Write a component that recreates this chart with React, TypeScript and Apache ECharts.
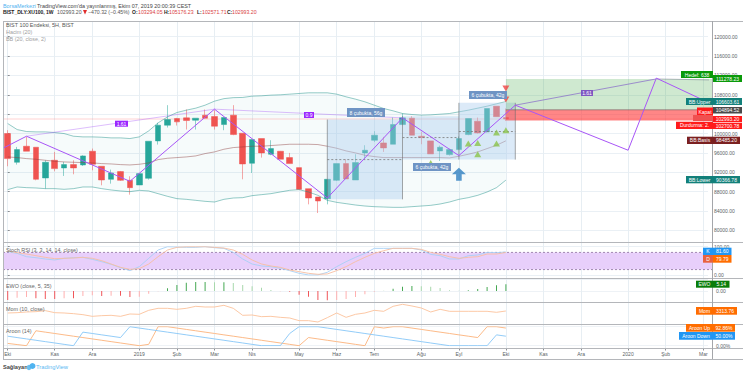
import React, { useEffect, useRef } from "react";
import * as echarts from "echarts";

const FONT = '"Liberation Sans", Arial, sans-serif';
const SLOTS = 75;
const monthLabels: [number, string][] = [[0,"Eki"],[5,"Kas"],[9,"Ara"],[14,"2019"],[18,"Şub"],[22,"Mar"],[26,"Nis"],[31,"May"],[35,"Haz"],[39,"Tem"],[44,"Ağu"],[48,"Eyl"],[53,"Eki"],[57,"Kas"],[61,"Ara"],[66,"2020"],[70,"Şub"],[74,"Mar"]];
const categories: string[] = Array.from({ length: SLOTS }, () => "");
monthLabels.forEach(([i, t]) => { categories[i] = t; });
const hiddenPriceTicks = [104000];

// open, close, low, high
const candles = [
[99990,94815,93230,100680],[94056,96678,93573,97230],[97368,96333,96333,99300],[97161,90537,90330,97161],
[90813,94056,88605,94470],[94470,92745,92193,96195],[92883,93573,91227,94125],[93573,92883,91572,94470],
[93504,95367,93297,95505],[96333,93642,92400,96885],[93228,90399,89295,93228],[90537,91848,89640,92538],
[92124,90330,90192,92262],[90330,88812,87363,91158],[89364,91710,89364,91710],[90744,98403,90468,98403],
[98472,101715,97713,102198],[101715,102888,101232,105855],[103095,102405,101646,103233],[103233,102681,100818,104958],
[102750,103164,100818,103164],[103785,103164,103164,104958],[103509,101508,100818,104820],[101853,103302,100680,103302],
[103785,99783,99645,105855],[100059,93711,90537,100059],[93849,98748,91848,98748],[98955,95988,95022,98955],
[95712,96885,95505,98610],[96333,94677,94677,96400],[95022,93780,93780,95988],[92952,88467,88467,92952],
[88605,86673,85362,88605],[86880,86052,83568,86880],[86535,90537,85362,90537],[90330,93780,90192,93780],
[93780,90606,90606,94677],[90399,93987,90399,95712],[95988,96540,94815,97575],[98610,99645,98265,100473],
[98058,97023,96195,99300],[97782,101853,97782,103302],[101853,103233,101715,104130],[103164,99645,99645,103578],
[99438,99162,97782,100335],[98472,95781,95781,98472],[96402,97161,94332,97506],[95643,96678,95436,96885],
[96678,98955,96678,99438],[99783,103095,99645,103095],[102543,100128,99990,103302],[100335,105165,100197,105165],
[105648,103464,103464,105648],[103294.05,102993.2,102571.71,105176.23],
];
const bbUpper = [102060,100818,100404,100335,100335,100197,99990,99438,99300,99300,99231,99093,99093,98955,99300,100542,102198,103440,104337,104820,105234,105855,106683,107200,107407,107448,107718,107787,107925,107994,108132,108270,108408,108408,108408,108132,107580,107097,106545,105855,105165,104682,104130,103923,103785,103854,103992,104130,104475,104820,105234,105648,106131,106603.61];
const bbBasis = [95160,95022,94815,94677,94470,94263,94125,94056,93987,93918,93780,93711,93573,93504,93642,93918,94608,94884,95022,95160,95367,95850,96195,96747,97092,97230,97368,97368,97506,97644,97782,97782,97782,97713,97368,96954,96402,95988,95505,95229,95022,95022,95022,95022,95022,95022,95022,94953,95298,95712,96195,96885,97575,98485.2];
const bbLower = [88398,88950,88812,88743,88605,88605,88467,88605,88950,88950,88605,88329,88122,87984,88260,88122,87570,87018,86535,86397,86190,85983,85845,86397,86673,86742,87156,87363,87570,87915,88260,88398,87915,87225,86190,85776,85500,85224,85017,84879,84810,84741,84741,84879,85017,85155,85431,85845,86397,86742,87225,87915,88812,90366.78];
const stochK = [82.6,76.7,65.1,61.6,57,53.5,59.3,61.6,62.8,55.8,47.7,38.4,26.7,16.3,30.2,59.3,88.4,100,98.8,97.7,97.7,100,96.5,94.2,80.2,57,39.5,32.6,30.2,24.4,16.3,7,1.2,1.2,10.5,30.2,47.7,62.8,76.7,94.2,94.2,94.2,94.2,94.2,88.4,73.3,68.6,57,57,68.6,70.9,80.2,79.1,81.6];
const stochD = [84.9,79.1,74.4,68.6,62.8,58.1,59.3,60.5,62.8,59.3,51.2,39.5,27.9,20.9,23.3,39.5,65.1,88.4,97.7,100,100,100,97.7,95.3,88.4,73.3,53.5,39.5,32.6,27.9,18.6,12.8,7,3.5,4.7,16.3,30.2,47.7,62.8,76.7,86,94.2,94.2,94.2,90.7,80.2,73.3,65.1,59.3,62.8,65.1,74.4,74.4,79.79];
const ewo = [-6.94,-5.14,-4.63,-5.66,-6.17,-6.17,-5.66,-5.66,-3.86,-3.34,-3.86,-3.6,-3.6,-4.63,-4.37,-2.06,-0.26,2.06,4.63,6.43,6.94,6.94,6.68,6.68,6.17,4.63,3.6,2.57,0.77,-0.26,-0.51,-2.83,-4.37,-6.94,-7.2,-6.94,-6.17,-4.63,-2.57,-0.51,0.1,1.8,3.34,3.86,3.6,3.34,2.31,0.51,0.26,0.51,1.54,3.08,4.37,5.14];
const mom = [-453,173,1427,2054,3934,173,-453,-1707,-3587,-6720,-5467,-4840,-6720,-2333,-2960,4560,8320,8320,6440,8320,12080,10827,10827,13960,8320,-4840,-4213,-7347,-6720,-8600,-9854,-14867,-14867,-17374,-9227,-453,-8600,-2960,-453,4560,2680,12080,15840,12707,8947,1427,6440,2680,2680,2680,2680,2680,800,3313.76];
const aroonUp = [12,6,0,78.6,71.4,64.3,57.1,50,42.9,35.7,28.6,21.4,14.3,7.1,0,7.1,100,100,92.9,85.7,78.6,71.4,64.3,57.1,50,42.9,35.7,28.6,21.4,14.3,7.1,0,42.9,35.7,28.6,21.4,14.3,7.1,0,100,92.9,100,100,92.9,85.7,78.6,71.4,64.3,57.1,50,42.9,100,100,92.86];
const aroonDown = [50,42.9,35.7,28.6,21.4,14.3,7.1,0,71.4,64.3,57.1,50,42.9,100,92.9,85.7,78.6,71.4,64.3,57.1,50,42.9,35.7,28.6,21.4,14.3,7.1,0,0,0,64.3,100,100,100,92.9,85.7,78.6,71.4,64.3,57.1,50,42.9,35.7,28.6,21.4,14.3,7.1,0,0,0,0,0,57.1,50];

// drawings, in (bar index, price)
const zigzag = [[-0.5,96954],[2,99438],[13,90123],[22,105027],[34,86673],[42,103233],[48,95436],[54,105855],[66,96545],[69,111442],[74.93,106060]];
const retraceA = [[2,99438],[22,105027],[42,103233]];
const retraceB = [[54,105855],[69,111278]];
const targetTail = [[69,111278],[74.93,111050]];
const blueBoxes = [[34,42,102888,86397],[42,48,103578,94608],[48,54,106338,94608]];
const boxEdges = [[34,102888,34,86397],[42,103578,42,86397],[48,106338,48,94608],[54,106338,54,94608]];
const boxMid = [[34,94608,42,94608],[42,99162,48,99162],[48,100404,54,100404]];
const targetBox = [[53,74.93,111278.23,104894.52]];
const stopBox = [[53,74.93,104894.52,102700.78]];
const lastClose = [[-0.5,74.93,103143,102843]];
const entryLine = [[53,104894.52,74.93,104894.52]];
const greenMarks = [[45,93918],[49,97920],[50,98058],[50,95712],[52,100197],[52,97920],[53,100680]];
const redMarks = [[53,109305],[53,107028]];
const arrowMark = [[48,91572]];
const stochZone = [[-0.5,74.93,80,20]];
const stochRails = [[-0.5,80,74.93,80],[-0.5,20,74.93,20]];

const priceBadges = [
  { b: [681,713,71,78], fill: "#0a9a0a", t: "Hedef: 638" },
  { b: [713,742,75,82], fill: "#0a9a0a", t: "111278.23" },
  { b: [686,713,98,105], fill: "#12807a", t: "BB:Upper" },
  { b: [713,742,98,105], fill: "#12807a", t: "106603.61" },
  { b: [697,713,107.5,117], fill: "#ff1a1a", t: "Kapat" },
  { b: [693,713,115,121], fill: "#f05050", t: "" },
  { b: [713,742,116,122], fill: "#ff1a1a", t: "102993.20" },
  { b: [713,742,107,113.5], fill: "#4a4a4a", t: "104894.52" },
  { b: [676,713,121.7,129], fill: "#ff1a1a", t: "Durdurma: 2." },
  { b: [713,742,122.7,129], fill: "#ff1a1a", t: "102700.78" },
  { b: [687,713,136.7,144], fill: "#7b2020", t: "BB:Basis" },
  { b: [713,740,136.7,144], fill: "#7b2020", t: "98485.20" },
  { b: [686,713,176,183.3], fill: "#12807a", t: "BB:Lower" },
  { b: [713,740,176,183.3], fill: "#12807a", t: "90366.78" },
  { b: [703,713,247.7,255], fill: "#2196f3", t: "K" },
  { b: [713,731.5,247.7,255], fill: "#2196f3", t: "81.60" },
  { b: [703,713,255,262.7], fill: "#e8623f", t: "D" },
  { b: [713,731.5,255,262.7], fill: "#ff6d00", t: "79.79" },
  { b: [696,713,280.7,287.7], fill: "#0a7d0a", t: "EWO" },
  { b: [713,729.5,280.7,287.7], fill: "#0a7d0a", t: "5.14" },
  { b: [696,713,307,314.7], fill: "#ff6d00", t: "Mom" },
  { b: [713,737,307,314.7], fill: "#ff6d00", t: "3313.76" },
  { b: [686,713,324,331.7], fill: "#ff6d00", t: "Aroon Up" },
  { b: [713,735,324,331.7], fill: "#ff6d00", t: "92.86%" },
  { b: [679,713,332,339.7], fill: "#2196f3", t: "Aroon Down" },
  { b: [713,735,332,339.7], fill: "#2196f3", t: "50.00%" },
];
const noteBadges = [
  { b: [347,385,108,117], fill: "#6f94c4", t: "8 çubukta, 56g" },
  { b: [413,451,163,171], fill: "#6f94c4", t: "6 çubukta, 42g" },
  { b: [469,507,91,99], fill: "#6f94c4", t: "6 çubukta, 42g" },
  { b: [115,128,120.7,126.7], fill: "#9c27ff", t: "1.61" },
  { b: [304,314,112,118], fill: "#9c27ff", t: "0.9" },
  { b: [581,593,90,96], fill: "#7e57c2", t: "1.61" },
];
const headerTexts: [number, number, string, string, string, number][] = [
  [3, 5.5, "BorsaMerkezi", "#4fb3f0", "normal", 5.4],
  [37, 5.5, "TradingView.com'da yayınlanmış, Ekim 07, 2019 20:00:39 CEST", "#444444", "normal", 5.4],
  [3, 12, "BIST_DLY:XU100, 1W", "#222222", "bold", 5],
  [57, 12, "102993.20", "#555555", "normal", 5.2],
  [88, 12, "−470.32 (−0.45%)", "#555555", "normal", 5.2],
  [132, 12, "O:", "#222222", "bold", 5],
  [138, 12, "103294.05", "#d9423f", "normal", 5.2],
  [164, 12, "H:", "#222222", "bold", 5],
  [169, 12, "105176.23", "#d9423f", "normal", 5.2],
  [197, 12, "L:", "#222222", "bold", 5],
  [202, 12, "102571.71", "#d9423f", "normal", 5.2],
  [227, 12, "C:", "#222222", "bold", 5],
  [232, 12, "102993.20", "#d9423f", "normal", 5.2],
  [6, 25, "BIST 100 Endeksi, 5H, BIST", "#555555", "normal", 5.4],
  [6, 32.3, "Hacim (20)", "#a0a0a0", "normal", 5.4],
  [6, 39.3, "BB (20, close, 2)", "#a0a0a0", "normal", 5.4],
  [6, 250, "Stoch RSI (3, 3, 14, 14, close)", "#666666", "normal", 5.4],
  [6, 286, "EWO (close, 5, 35)", "#666666", "normal", 5.4],
  [6, 309, "Mom (10, close)", "#666666", "normal", 5.4],
  [6, 331, "Aroon (14)", "#666666", "normal", 5.4],
];
const separators = [21.5, 242.5, 278.5, 302.5, 324.5, 348.5, 359.5];

const rectSeries = (rows: number[][], style: any, z: number, xAxisIndex: number, yAxisIndex: number) => ({
  type: "custom", data: rows, z, xAxisIndex, yAxisIndex, clip: false, silent: true,
  encode: { x: [0, 1], y: [2, 3] },
  renderItem: (_: any, api: any) => {
    const a = api.coord([api.value(0), api.value(2)]);
    const b = api.coord([api.value(1), api.value(3)]);
    return { type: "rect", shape: { x: a[0], y: a[1], width: b[0] - a[0], height: b[1] - a[1] }, style };
  },
});
const segSeries = (rows: number[][], style: any, z: number, xAxisIndex: number, yAxisIndex: number) => ({
  type: "custom", data: rows, z, xAxisIndex, yAxisIndex, clip: false, silent: true,
  encode: { x: [0, 2], y: [1, 3] },
  renderItem: (_: any, api: any) => {
    const a = api.coord([api.value(0), api.value(1)]);
    const b = api.coord([api.value(2), api.value(3)]);
    return { type: "line", shape: { x1: a[0], y1: a[1], x2: b[0], y2: b[1] }, style };
  },
});
const polySeries = (data: number[][], color: string, width: number, z: number) => ({
  type: "line", data, xAxisIndex: 2, yAxisIndex: 1, symbol: "none", clip: false, z, silent: true,
  lineStyle: { color, width },
});
const plainLine = (data: number[], color: string, x: number, y: number, width = 1) => ({
  type: "line", data, xAxisIndex: x, yAxisIndex: y, symbol: "none", silent: true, z: 4, lineStyle: { color, width },
});

export default function App() {
  const ref = useRef<HTMLDivElement>(null);
  useEffect(() => {
    const chart = echarts.init(ref.current!, undefined, { renderer: "svg" });
    const L = 3, W = 705;
    const hiddenCat = (gridIndex: number) => ({ type: "category", gridIndex, data: categories, show: false });
    const hiddenVal = (gridIndex: number) => ({ type: "value", gridIndex, min: -0.5, max: 74.5, show: false });
    const labelStyle = { fontSize: 5, color: "#5a5f66", fontFamily: FONT };

    const txt = headerTexts.map(([x, y, text, fill, weight, size]) => ({
      type: "text", x, y, z: 100, silent: true,
      style: { text, fill, font: `${weight} ${size}px ${FONT}`, textAlign: "left", textVerticalAlign: "middle" },
    }));
    const badge = (o: any) => {
      const [x0, x1, y0, y1] = o.b;
      const items: any[] = [{ type: "rect", z: 100, silent: true, shape: { x: x0, y: y0, width: x1 - x0, height: y1 - y0 }, style: { fill: o.fill } }];
      if (o.t) items.push({ type: "text", z: 101, silent: true, x: (x0 + x1) / 2, y: (y0 + y1) / 2, style: { text: o.t, fill: "#ffffff", font: `5px ${FONT}`, textAlign: "center", textVerticalAlign: "middle" } });
      return items;
    };
    const lines = separators.map((y) => ({ type: "line", z: 90, silent: true, shape: { x1: 3, y1: y, x2: 743, y2: y }, style: { stroke: "#b4b6ba", lineWidth: 1 } }));

    const ewoData = ewo.map((v, i) => {
      const prev = i ? ewo[i - 1] : 0;
      const rising = Math.abs(v) >= Math.abs(prev);
      const color = v >= 0 ? (rising ? "#45a852" : "#a8d8ac") : (rising ? "#f0565a" : "#ffb0b0");
      return { value: v, itemStyle: { color } };
    });

    chart.setOption({
      animation: false,
      backgroundColor: "#ffffff",
      grid: [
        { left: L, width: W, top: 21.5, height: 327 },
        { left: L, width: W, top: 36.7, height: 193.6 },
        { left: L, width: W, top: 246.7, height: 28.6 },
        { left: L, width: W, top: 279.33, height: 23.34 },
        { left: L, width: W, top: 302.1, height: 21.3 },
        { left: L, width: W, top: 326.7, height: 19 },
      ],
      xAxis: [
        {
          type: "category", gridIndex: 0, data: categories,
          axisLine: { show: false },
          axisTick: { show: true, length: 2, alignWithLabel: true, interval: (i: number, v: string) => v !== "", lineStyle: { color: "#8a8d91" } },
          axisLabel: { ...labelStyle, interval: (i: number, v: string) => v !== "", margin: 3 },
          splitLine: { show: true, alignWithLabel: true, interval: (i: number, v: string) => v !== "", lineStyle: { color: "#e7eef3", width: 1 } },
        },
        hiddenCat(1), hiddenVal(1), hiddenCat(2), hiddenVal(2), hiddenCat(3), hiddenCat(4), hiddenCat(5),
      ],
      yAxis: [
        { type: "value", gridIndex: 0, min: 0, max: 1, show: false },
        {
          type: "value", gridIndex: 1, position: "right", offset: 4, min: 80000, max: 120000, interval: 4000,
          axisLine: { show: false }, axisTick: { show: true, length: 2, lineStyle: { color: "#8a8d91" } },
          axisLabel: { ...labelStyle, margin: 2, formatter: (v: number) => (hiddenPriceTicks.includes(v) ? "" : v.toFixed(2)) },
          splitLine: { show: true, lineStyle: { color: "#eaf0f5" } },
        },
        {
          type: "value", gridIndex: 2, position: "right", offset: 4, min: 0, max: 100, interval: 100,
          axisLine: { show: false }, axisTick: { show: true, length: 2, lineStyle: { color: "#8a8d91" } },
          axisLabel: { ...labelStyle, margin: 2, formatter: (v: number) => v.toFixed(2) },
          splitLine: { show: true, lineStyle: { color: "#eaf0f5" } },
        },
        {
          type: "value", gridIndex: 3, position: "right", offset: 4, min: -9, max: 9, interval: 9,
          axisLine: { show: false }, axisTick: { show: false },
          axisLabel: { ...labelStyle, margin: 4, formatter: (v: number) => (v === 0 ? "0.00" : "") },
          splitLine: { show: true, lineStyle: { color: "#eef2f6" } },
        },
        { type: "value", gridIndex: 4, min: -20000, max: 20000, show: false, splitNumber: 2 },
        {
          type: "value", gridIndex: 5, position: "right", offset: 4, min: 0, max: 100, interval: 100,
          axisLine: { show: false }, axisTick: { show: false },
          axisLabel: { ...labelStyle, margin: 4, formatter: (v: number) => (v === 0 ? "0.00%" : "") },
          splitLine: { show: true, lineStyle: { color: "#eef2f6" } },
        },
      ],
      series: [
        // Bollinger fill, stacked on the lower band
        { type: "line", data: bbLower, stack: "bb", xAxisIndex: 1, yAxisIndex: 1, symbol: "none", silent: true, z: 1, lineStyle: { opacity: 0 } },
        { type: "line", data: bbUpper.map((u, i) => u - bbLower[i]), stack: "bb", xAxisIndex: 1, yAxisIndex: 1, symbol: "none", silent: true, z: 1, lineStyle: { opacity: 0 }, areaStyle: { color: "rgba(38,166,154,0.06)" } },
        {
          type: "candlestick", data: candles, xAxisIndex: 1, yAxisIndex: 1, barWidth: 6.2, z: 3, silent: true,
          itemStyle: { color: "#26a69a", color0: "#ef5350", borderColor: "#26a69a", borderColor0: "#ef5350", borderWidth: 0.5 },
        },
        plainLine(bbUpper, "rgba(20,140,130,0.45)", 1, 1),
        plainLine(bbBasis, "rgba(140,60,60,0.45)", 1, 1),
        plainLine(bbLower, "rgba(20,140,130,0.45)", 1, 1),
        rectSeries(lastClose, { fill: "rgba(255,90,90,0.18)" }, 2, 2, 1),
        rectSeries(blueBoxes, { fill: "rgba(171,205,238,0.42)" }, 5, 2, 1),
        segSeries(boxEdges, { stroke: "rgba(110,110,110,0.6)", lineWidth: 1 }, 6, 2, 1),
        segSeries(boxMid, { stroke: "#777777", lineWidth: 0.8, lineDash: [2, 2] }, 6, 2, 1),
        rectSeries(targetBox, { fill: "rgba(76,175,80,0.27)" }, 5, 2, 1),
        rectSeries(stopBox, { fill: "rgba(255,60,60,0.62)" }, 5, 2, 1),
        segSeries(entryLine, { stroke: "rgba(90,90,90,0.55)", lineWidth: 1 }, 6, 2, 1),
        polySeries(retraceA, "rgba(165,85,247,0.38)", 1, 7),
        polySeries(retraceB, "rgba(120,80,200,0.6)", 1, 7),
        polySeries(targetTail, "rgba(110,110,140,0.45)", 1, 7),
        polySeries(zigzag, "#a855f7", 1, 8),
        { type: "scatter", data: greenMarks, xAxisIndex: 2, yAxisIndex: 1, symbol: "triangle", symbolSize: [7, 6], z: 9, silent: true, itemStyle: { color: "#8bc34a" } },
        { type: "scatter", data: redMarks, xAxisIndex: 2, yAxisIndex: 1, symbol: "triangle", symbolRotate: 180, symbolSize: [7, 6], z: 9, silent: true, itemStyle: { color: "#ef4444" } },
        { type: "scatter", data: arrowMark, xAxisIndex: 2, yAxisIndex: 1, symbol: "path://M50 0L100 50L70 50L70 100L30 100L30 50L0 50Z", symbolSize: [14, 13], z: 9, silent: true, itemStyle: { color: "#2f7fc1" } },
        // Stoch RSI
        rectSeries(stochZone, { fill: "#e8cffb" }, 1, 4, 2),
        segSeries(stochRails, { stroke: "#8d6f9e", lineWidth: 0.8, lineDash: [2, 2] }, 2, 4, 2),
        plainLine(stochK, "#a8d0f5", 3, 2, 0.9),
        plainLine(stochD, "#f7bea2", 3, 2, 0.9),
        // EWO
        { type: "bar", data: ewoData, xAxisIndex: 5, yAxisIndex: 3, barWidth: 1, silent: true, z: 3 },
        // Momentum
        plainLine(mom, "#fcc29b", 6, 4, 0.9),
        // Aroon
        plainLine(aroonUp, "#fcb27a", 7, 5, 0.9),
        plainLine(aroonDown, "#86c6f7", 7, 5, 0.9),
      ],
      graphic: [
        ...lines,
        { type: "line", z: 90, silent: true, shape: { x1: 712.5, y1: 21, x2: 712.5, y2: 359 }, style: { stroke: "#a4a6aa", lineWidth: 1 } },
        { type: "line", z: 90, silent: true, shape: { x1: 3.5, y1: 21, x2: 3.5, y2: 359 }, style: { stroke: "#b4b6ba", lineWidth: 1 } },
        ...txt,
        { type: "polygon", z: 100, silent: true, shape: { points: [[83, 10], [87, 10], [85, 14.5]] }, style: { fill: "#e02b2b" } },
        ...priceBadges.flatMap(badge),
        ...noteBadges.flatMap(badge),
        { type: "text", z: 100, silent: true, x: 3, y: 367, style: { text: "Sağlayan:", fill: "#444444", font: `bold 5.6px ${FONT}`, textVerticalAlign: "middle" } },
        { type: "circle", z: 100, silent: true, shape: { cx: 29, cy: 367.5, r: 2.6 }, style: { fill: "#6fc0ef" } },
        { type: "circle", z: 100, silent: true, shape: { cx: 32.5, cy: 366, r: 3 }, style: { fill: "#4fb3f0" } },
        { type: "text", z: 100, silent: true, x: 36, y: 367, style: { text: "TradingView", fill: "#5bb8f2", font: `5.8px ${FONT}`, textVerticalAlign: "middle" } },
      ],
    });
    return () => chart.dispose();
  }, []);
  return <div ref={ref} style={{ position: "fixed", left: 0, top: 0, width: 745, height: 375, background: "#fff" }} />;
}
